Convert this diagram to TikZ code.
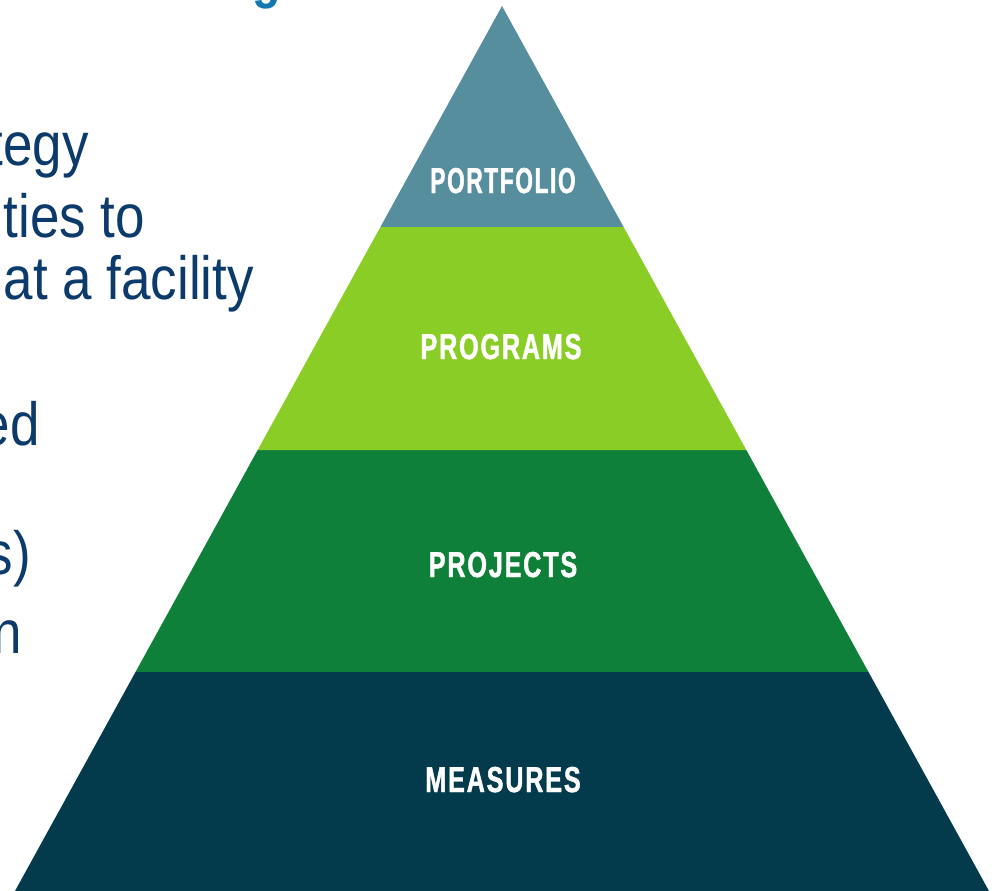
\documentclass[tikz,border=0pt]{standalone}
\usepackage{fontspec}
\usetikzlibrary{calc}
\setmainfont{Liberation Sans}
\newfontfamily\labelfont[FakeStretch=0.7,FakeBold=1.2,LetterSpace=5]{Liberation Sans Bold}
\definecolor{tierTop}{HTML}{568E9E}
\definecolor{tierLime}{HTML}{8ACD26}
\definecolor{tierGreen}{HTML}{0E803A}
\definecolor{tierDeep}{HTML}{033B4C}
\definecolor{bodyBlue}{HTML}{0B3A6B}
\definecolor{titleBlue}{HTML}{1479B0}
\begin{document}
\begin{tikzpicture}[x=1pt,y=-1pt,
  tierlabel/.style={text=white,font=\labelfont\fontsize{36}{36}\selectfont,inner sep=0pt,anchor=base},
  bodyline/.style={text=bodyBlue,font=\fontsize{61}{66}\selectfont,inner sep=0pt,anchor=base east,xscale=0.868,transform shape}]
\useasboundingbox (0,0) rectangle (994,891);
\clip (0,0) rectangle (994,891);
% pyramid outline points
\coordinate (apex) at (502,6);
\coordinate (bl) at (15,891);
\coordinate (br) at (989,891);
% tier boundaries along the two sides
\coordinate (gl) at ($(apex)!{(672-6)/885}!(bl)$);
\coordinate (gr) at ($(apex)!{(672-6)/885}!(br)$);
\coordinate (ll) at ($(apex)!{(450-6)/885}!(bl)$);
\coordinate (lr) at ($(apex)!{(450-6)/885}!(br)$);
\coordinate (tl) at ($(apex)!{(227-6)/885}!(bl)$);
\coordinate (tr) at ($(apex)!{(227-6)/885}!(br)$);
% tiers, bottom up
\fill[tierDeep]  (bl) -- (br) -- (gr) -- (gl) -- cycle;
\fill[tierGreen] (gl) -- (gr) -- (lr) -- (ll) -- cycle;
\fill[tierLime]  (ll) -- (lr) -- (tr) -- (tl) -- cycle;
\fill[tierTop]   (tl) -- (tr) -- (apex) -- cycle;
% tier labels
\node[tierlabel,xscale=0.9,transform shape] (portfolio) at (503,193) {PORTFOLIO};
\node[tierlabel] (programs)  at (501,359) {PROGRAMS};
\node[tierlabel] (projects)  at (503,577) {PROJECTS};
\node[tierlabel] (measures)  at (503,792) {MEASURES};
% heading and body text at the left
\node[text=titleBlue,font=\bfseries\fontsize{55}{55}\selectfont,inner sep=0pt,anchor=base,xscale=0.85,transform shape] (title) at (267,-2) {g};
\node[bodyline] (l1) at (89,165) {tegy};
\node[bodyline] (l2) at (145,237) {ities to};
\node[bodyline] (l3) at (254,299) {at a facility};
\node[bodyline] (l4) at (40,445) {ed};
\node[bodyline] (l5) at (31,574) {s)};
\node[bodyline] (l6) at (22,653) {n};
\end{tikzpicture}
\end{document}
